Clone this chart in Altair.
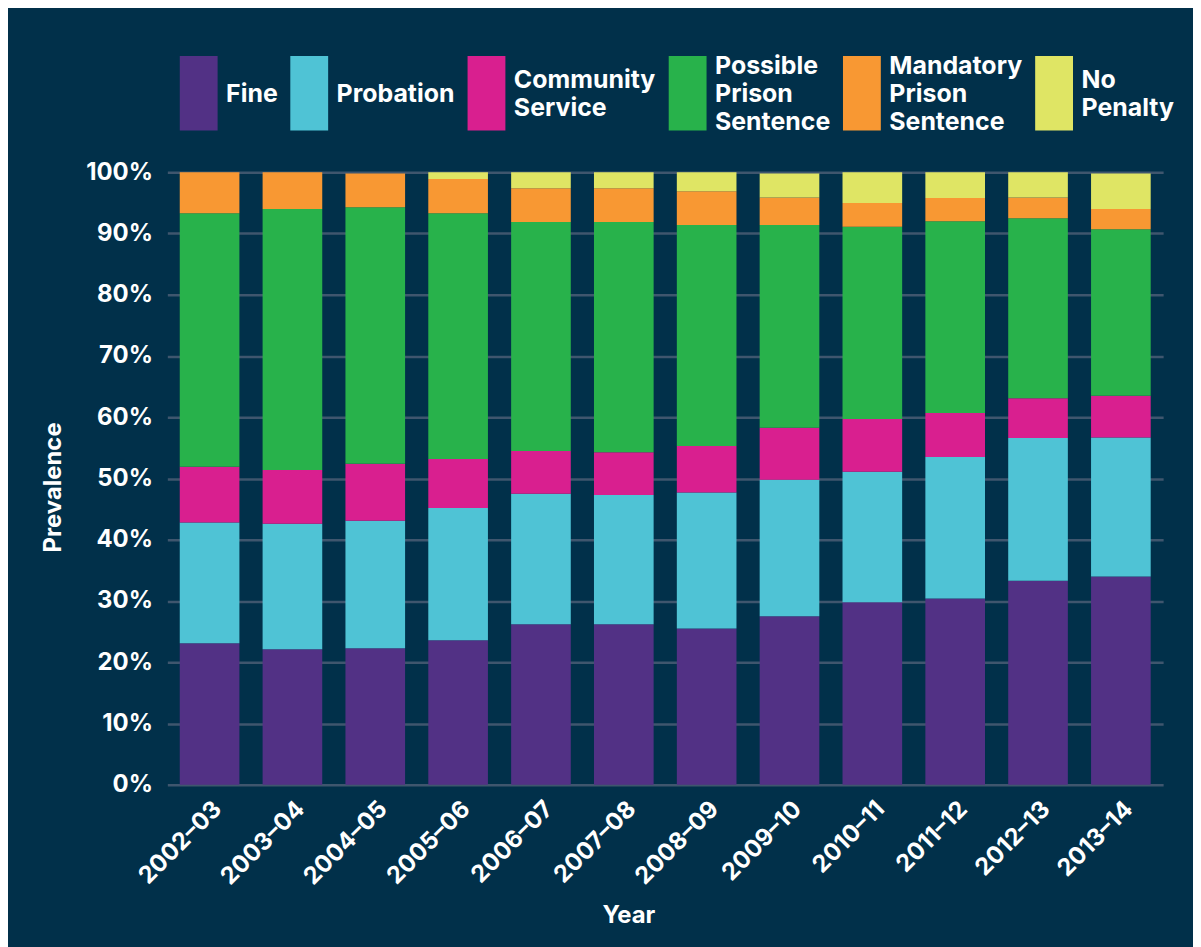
import altair as alt
import pandas as pd

years = ["2002–03", "2003–04", "2004–05", "2005–06", "2006–07", "2007–08",
         "2008–09", "2009–10", "2010–11", "2011–12", "2012–13", "2013–14"]

categories = ["Fine", "Probation", "Community Service", "Possible Prison Sentence",
              "Mandatory Prison Sentence", "No Penalty"]
colors = ["#523185", "#4fc3d5", "#d91f8f", "#28b24b", "#f89833", "#dfe564"]

fine = [23.1, 22.1, 22.3, 23.6, 26.2, 26.2, 25.5, 27.5, 29.8, 30.4, 33.3, 34.0]
probation = [19.7, 20.5, 20.8, 21.6, 21.3, 21.1, 22.2, 22.3, 21.3, 23.1, 23.3, 22.7]
community = [9.1, 8.8, 9.3, 8.0, 7.0, 7.0, 7.6, 8.5, 8.6, 7.2, 6.5, 6.8]
possible = [41.4, 42.6, 41.9, 40.1, 37.4, 37.6, 36.1, 33.1, 31.4, 31.3, 29.4, 27.2]
mandatory = [6.7, 6.0, 5.5, 5.6, 5.5, 5.5, 5.5, 4.5, 3.9, 3.8, 3.4, 3.3]
no_penalty = [0.0, 0.0, 0.0, 1.1, 2.6, 2.6, 3.1, 3.9, 5.0, 4.2, 4.1, 5.8]

series = [fine, probation, community, possible, mandatory, no_penalty]
ticks = [0, 10, 20, 30, 40, 50, 60, 70, 80, 90, 100]

rows = []
for ci, (cat, vals) in enumerate(zip(categories, series)):
    for y, v in zip(years, vals):
        rows.append({"year": y, "category": cat, "value": v, "idx": ci})
df = pd.DataFrame(rows)

BG = "#01304a"
FONT = "Inter"

# Legend labels: every label becomes 5 half-height slots (lineHeight 14), words on
# alternate slots (fillers are zero-width spaces), so each block is centred on the
# middle slot and all entries have identical bounds.
NB = "'\u200b'"
words = "split(datum.label, ' ')"
label_expr = (
    f"length({words}) == 3 ? [{words}[0], {NB}, {words}[1], {NB}, {words}[2]] : "
    f"(length({words}) == 2 ? [{NB}, {words}[0], {NB}, {words}[1], {NB}] : "
    f"[{NB}, {NB}, datum.label, {NB}, {NB}])"
)

chart = alt.Chart(df).mark_bar().encode(
    x=alt.X(
        "year:N", sort=years, title="Year",
        scale=alt.Scale(paddingInner=0.28, paddingOuter=0.15),
        axis=alt.Axis(
            labelAngle=-45, labelAlign="right", labelBaseline="top",
            labelFontSize=24, labelFont=FONT, labelFontWeight="bold", labelColor="white",
            labelPadding=12, ticks=False, domain=False, grid=False,
            titleFontSize=24, titleFont=FONT, titleFontWeight="bold", titleColor="white",
            titleX=463, titleY=131, titleBaseline="middle", titleAlign="center",
        ),
    ),
    y=alt.Y(
        "value:Q", stack="zero", title="Prevalence",
        scale=alt.Scale(domain=[0, 100], nice=False),
        axis=alt.Axis(
            values=ticks, labelExpr="datum.value + '%'",
            labelFontSize=24, labelFont=FONT, labelFontWeight="bold", labelColor="white",
            labelPadding=15, ticks=False, domain=False,
            grid=True, gridColor="#3f566e", gridWidth=2.5,
            titleFontSize=24, titleFont=FONT, titleFontWeight="bold", titleColor="white",
            titleAngle=270, titleX=-114, titleY=316, titleAlign="center",
            titleBaseline="middle",
        ),
    ),
    color=alt.Color(
        "category:N",
        scale=alt.Scale(domain=categories, range=colors),
        legend=alt.Legend(
            title=None, orient="none", legendX=10, legendY=-119,
            direction="horizontal", columns=6, padding=0,
            symbolType="M-1.9,-1.06H1.9V6.44H-1.9Z", symbolSize=400,
            symbolStrokeWidth=0, symbolOffset=9, symbolOpacity=1,
            labelOffset=15, columnPadding=10,
            labelFontSize=25, labelFont=FONT, labelFontWeight="bold",
            labelColor="white", labelLimit=400,
            labelExpr=label_expr,
        ),
    ),
    order=alt.Order("idx:Q", sort="ascending"),
).properties(
    width=1000, height=615,
    background=BG,
    padding={"left": 160, "top": 163, "right": 30, "bottom": 161},
    autosize=alt.AutoSizeParams(type="none"),
).configure(
    view=alt.ViewConfig(strokeWidth=0),
    style={"guide-label": {"lineHeight": 14}},
)

chart.save("out.html", embed_options={"renderer": "svg", "actions": False})
